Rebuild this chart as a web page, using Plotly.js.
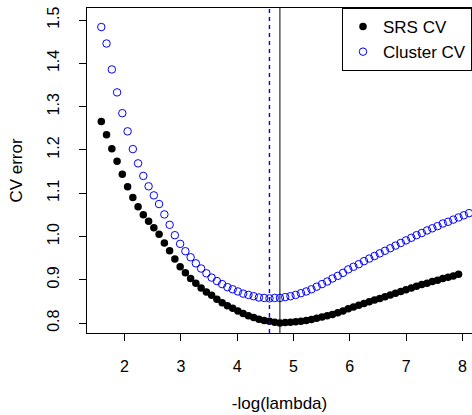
<!DOCTYPE html>
<html>
<head>
<meta charset="utf-8">
<script src="https://cdn.plot.ly/plotly-3.0.1.min.js"></script>
<style>
html, body { margin: 0; padding: 0; overflow: hidden; background: #fff; }
#chart { width: 476px; height: 415px; }
</style>
</head>
<body>
<div id="chart"></div>
<script>
// -log(lambda) sequence
const negLogLambda = [
  1.587, 1.680, 1.774, 1.867, 1.960, 2.054, 2.147, 2.240, 2.333, 2.427,
  2.520, 2.613, 2.707, 2.800, 2.893, 2.987, 3.080, 3.173, 3.266, 3.360,
  3.453, 3.546, 3.640, 3.733, 3.826, 3.920, 4.013, 4.106, 4.199, 4.293,
  4.386, 4.479, 4.573, 4.666, 4.759, 4.853, 4.946, 5.039, 5.132, 5.226,
  5.319, 5.412, 5.506, 5.599, 5.692, 5.786, 5.879, 5.972, 6.065, 6.159,
  6.252, 6.345, 6.439, 6.532, 6.625, 6.719, 6.812, 6.905, 6.998, 7.092,
  7.185, 7.278, 7.372, 7.465, 7.558, 7.652, 7.745, 7.838, 7.931, 8.025,
  8.118
];

// SRS CV error (69 points)
const srsCV = [
  1.266, 1.235, 1.203, 1.174, 1.144, 1.115, 1.090, 1.069, 1.050, 1.035,
  1.020, 1.005, 0.985, 0.967, 0.948, 0.930, 0.916, 0.903, 0.892, 0.881,
  0.872, 0.864, 0.855, 0.847, 0.840, 0.834, 0.828, 0.822, 0.817, 0.813,
  0.809, 0.806, 0.804, 0.802, 0.800, 0.801, 0.802, 0.803, 0.804, 0.806,
  0.808, 0.811, 0.814, 0.817, 0.820, 0.824, 0.828, 0.833, 0.837, 0.841,
  0.845, 0.849, 0.853, 0.857, 0.861, 0.865, 0.869, 0.873, 0.877, 0.881,
  0.885, 0.889, 0.892, 0.896, 0.899, 0.903, 0.906, 0.909, 0.913
];

// Cluster CV error (71 points)
const clusterCV = [
  1.484, 1.446, 1.386, 1.333, 1.285, 1.243, 1.202, 1.169, 1.140, 1.116,
  1.095, 1.075, 1.051, 1.027, 1.003, 0.983, 0.966, 0.952, 0.938, 0.926,
  0.915, 0.905, 0.897, 0.890, 0.883, 0.878, 0.873, 0.868, 0.865, 0.862,
  0.859, 0.858, 0.857, 0.858, 0.858, 0.860, 0.862, 0.865, 0.869, 0.873,
  0.878, 0.884, 0.890, 0.896, 0.903, 0.909, 0.916, 0.924, 0.930, 0.936,
  0.943, 0.949, 0.955, 0.961, 0.967, 0.973, 0.979, 0.985, 0.991, 0.997,
  1.003, 1.008, 1.014, 1.019, 1.024, 1.030, 1.034, 1.039, 1.044, 1.049,
  1.054
];

const xTickVals = [2, 3, 4, 5, 6, 7, 8];
const yTickVals = [0.8, 0.9, 1.0, 1.1, 1.2, 1.3, 1.4, 1.5];
const yTickText = ["0.8", "0.9", "1.0", "1.1", "1.2", "1.3", "1.4", "1.5"];
const seriesNames = ["SRS CV", "Cluster CV"];

const argMin = arr => arr.indexOf(Math.min(...arr));
const srsMinX = negLogLambda[argMin(srsCV)];
const clusterMinX = negLogLambda[argMin(clusterCV)];

const FONT = "Liberation Sans, Arial, sans-serif";

const traces = [
  {
    x: negLogLambda.slice(0, srsCV.length), y: srsCV,
    type: "scatter", mode: "markers", name: seriesNames[0],
    marker: { symbol: "circle", size: 7.5, color: "black" },
    cliponaxis: true
  },
  {
    x: negLogLambda.slice(0, clusterCV.length), y: clusterCV,
    type: "scatter", mode: "markers", name: seriesNames[1],
    marker: { symbol: "circle-open", size: 7.5, color: "blue", line: { width: 1, color: "blue" } },
    cliponaxis: true
  }
];

const layout = {
  width: 476, height: 415,
  margin: { l: 87, r: 4, t: 8, b: 82 },
  paper_bgcolor: "white", plot_bgcolor: "white",
  font: { family: FONT, size: 17, color: "black" },
  showlegend: true,
  legend: {
    x: 1, xanchor: "right", y: 1, yanchor: "top",
    bordercolor: "black", borderwidth: 1, bgcolor: "white",
    font: { family: FONT, size: 17, color: "black" },
    tracegroupgap: 0
  },
  xaxis: {
    range: [1.333, 8.17],
    tickmode: "array", tickvals: xTickVals,
    ticks: "outside", ticklen: 7, tickcolor: "black", tickwidth: 1,
    showline: true, linecolor: "black", linewidth: 1, mirror: true,
    showgrid: false, zeroline: false,
    tickfont: { family: FONT, size: 16 },
    ticklabelstandoff: 12,
    title: { text: "-log(lambda)", font: { family: FONT, size: 17 }, standoff: 22 }
  },
  yaxis: {
    range: [0.777, 1.528],
    tickmode: "array", tickvals: yTickVals, ticktext: yTickText,
    tickangle: -90,
    ticks: "outside", ticklen: 7, tickcolor: "black", tickwidth: 1,
    showline: true, linecolor: "black", linewidth: 1, mirror: true,
    showgrid: false, zeroline: false,
    tickfont: { family: FONT, size: 16 },
    ticklabelstandoff: 14,
    title: { text: "CV error", font: { family: FONT, size: 17 }, standoff: 17 }
  },
  shapes: [
    { type: "line", xref: "x", yref: "paper", x0: clusterMinX, x1: clusterMinX, y0: 0, y1: 1,
      line: { color: "blue", width: 1.4, dash: "4px,4px" } },
    { type: "line", xref: "x", yref: "paper", x0: srsMinX, x1: srsMinX, y0: 0, y1: 1,
      line: { color: "black", width: 1 } }
  ]
};

Plotly.newPlot("chart", traces, layout, { displayModeBar: false, staticPlot: true });
</script>
</body>
</html>
